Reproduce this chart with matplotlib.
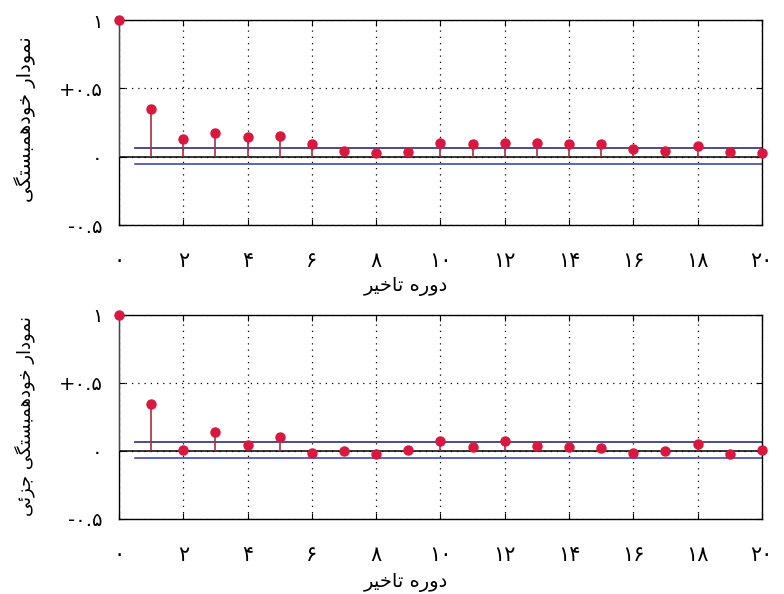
import matplotlib
matplotlib.use('Agg')
import matplotlib.pyplot as plt
import numpy as np

plt.rcParams['font.family'] = ['DejaVu Sans']

lags = np.arange(0, 21)
acf = [1.0, 0.347, 0.132, 0.173, 0.144, 0.154, 0.09, 0.044, 0.025, 0.032, 0.10,
       0.09, 0.10, 0.10, 0.09, 0.09, 0.054, 0.044, 0.08, 0.037, 0.025]
pacf = [1.0, 0.345, 0.01, 0.14, 0.044, 0.10, -0.015, -0.003, -0.022, 0.007, 0.073,
        0.03, 0.075, 0.033, 0.03, 0.02, -0.015, 0.0, 0.05, -0.025, 0.007]
conf_hi = 0.064
conf_lo = -0.055

xticks = list(range(0, 21, 2))
yticks = [-0.5, 0, 0.5, 1]
ytick_labels = ['-۰.۵', '۰', '+۰.۵', '۱']

# crude arabic shaping: matplotlib has no bidi/joining support
FORMS = {
    'ا': (0xFE8D, 0xFE8E, None, None),
    'ب': (0xFE8F, 0xFE90, 0xFE91, 0xFE92),
    'ت': (0xFE95, 0xFE96, 0xFE97, 0xFE98),
    'ج': (0xFE9D, 0xFE9E, 0xFE9F, 0xFEA0),
    'خ': (0xFEA5, 0xFEA6, 0xFEA7, 0xFEA8),
    'د': (0xFEA9, 0xFEAA, None, None),
    'ر': (0xFEAD, 0xFEAE, None, None),
    'ز': (0xFEAF, 0xFEB0, None, None),
    'س': (0xFEB1, 0xFEB2, 0xFEB3, 0xFEB4),
    'م': (0xFEE1, 0xFEE2, 0xFEE3, 0xFEE4),
    'ن': (0xFEE5, 0xFEE6, 0xFEE7, 0xFEE8),
    'ه': (0xFEE9, 0xFEEA, 0xFEEB, 0xFEEC),
    'و': (0xFEED, 0xFEEE, None, None),
    'ئ': (0xFE89, 0xFE8A, 0xFE8B, 0xFE8C),
    'گ': (0xFB92, 0xFB93, 0xFB94, 0xFB95),
    'ی': (0xFBFC, 0xFBFD, 0xFBFE, 0xFBFF),
}


def fa(text):
    out = []
    for i, ch in enumerate(text):
        if ch not in FORMS:
            out.append(ch)
            continue
        prev = text[i - 1] if i > 0 else ' '
        nxt = text[i + 1] if i < len(text) - 1 else ' '
        jp = prev in FORMS and FORMS[prev][2] is not None
        jn = FORMS[ch][2] is not None and nxt in FORMS
        f = FORMS[ch]
        if jp and jn:
            c = f[3]
        elif jp:
            c = f[1]
        elif jn:
            c = f[2]
        else:
            c = f[0]
        out.append(chr(c))
    return ''.join(out[::-1])


def fa_digits(n):
    return str(n).translate(str.maketrans('0123456789', '۰۱۲۳۴۵۶۷۸۹'))


xlabel = fa('دوره تاخیر')
ylabels = [fa('نمودار خودهمبستگی'), fa('نمودار خودهمبستگی جزئی')]

fig = plt.figure(figsize=(7.84, 5.94), dpi=100)
ax1 = fig.add_axes([0.1518, 0.6212, 0.820, 0.345])
ax2 = fig.add_axes([0.1518, 0.1263, 0.820, 0.3434])

for ax, vals, yl, ylab_y, yfs in [(ax1, acf, ylabels[0], 0.80, 14), (ax2, pacf, ylabels[1], 0.30, 13)]:
    ax.set_xlim(0, 20)
    ax.set_ylim(-0.5, 1)
    ax.vlines(lags, 0, vals, color='#a8303f', lw=1.2, zorder=3)
    ax.plot(lags, vals, 'o', color='#d9173f', ms=6.5, zorder=4, clip_on=False)
    ax.axhline(0, color='black', lw=1.1, zorder=2)
    ax.plot([0.5, 20], [conf_hi, conf_hi], color='#3b3f86', lw=1.3, zorder=2)
    ax.plot([0.5, 20], [conf_lo, conf_lo], color='#2b3bb0', lw=1.1, zorder=2)
    ax.set_xticks(xticks)
    ax.set_xticklabels([fa_digits(t) for t in xticks], fontsize=15)
    ax.set_yticks(yticks)
    ax.set_yticklabels(ytick_labels, fontsize=14)
    ax.grid(True, ls=(0, (1, 4)), color='black', lw=0.9)
    ax.tick_params(direction='in', length=4, top=True, right=True)
    ax.tick_params(axis='x', pad=19)
    ax.tick_params(axis='y', pad=12)
    for s in ax.spines.values():
        s.set_linewidth(1.0)
    fig.text(0.032, ylab_y, yl, rotation=90, fontsize=yfs, ha='center', va='center')

fig.text(0.518, 0.518, xlabel, fontsize=14, ha='center', va='center')
fig.text(0.518, 0.020, xlabel, fontsize=14, ha='center', va='center')

fig.savefig('out.png', dpi=100)
